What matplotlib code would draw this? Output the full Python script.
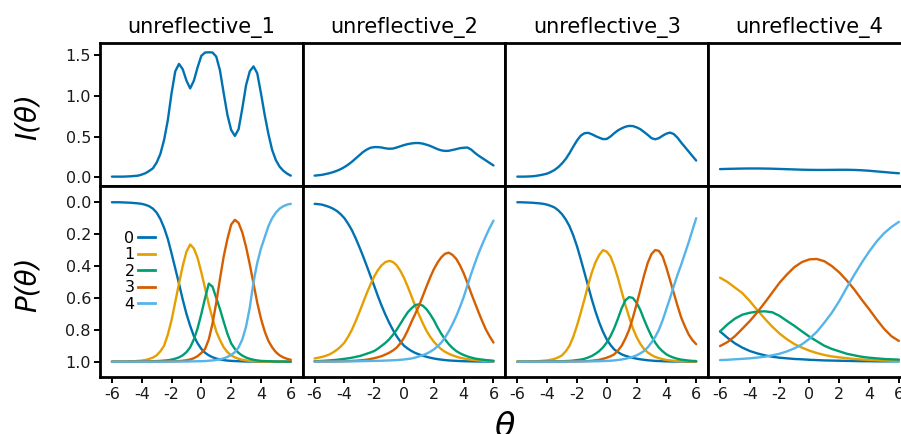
import matplotlib
matplotlib.use("Agg")
import matplotlib.pyplot as plt
from matplotlib.lines import Line2D
import numpy as np

# theta positions the curves were read at
theta_fine = np.linspace(-6, 6, 49)   # unreflective_1..3, every 0.25
theta = np.linspace(-6, 6, 25)        # unreflective_4, every 0.5

items = ["unreflective_1", "unreflective_2", "unreflective_3", "unreflective_4"]
categories = ["0", "1", "2", "3", "4"]
cat_colors = ["#0072B2", "#E69F00", "#009E73", "#D55E00", "#56B4E9"]
info_color = "#0072B2"

# item information I(theta)
info_u1 = [0.008, 0.008, 0.008, 0.008, 0.01, 0.012, 0.016, 0.02, 0.033,
           0.05, 0.078, 0.11, 0.18, 0.286, 0.458, 0.70, 1.03,
           1.30, 1.39, 1.325, 1.186, 1.09, 1.186, 1.35, 1.49,
           1.53, 1.533, 1.53, 1.48, 1.31, 1.03, 0.765, 0.58,
           0.507, 0.59, 0.847, 1.13, 1.30, 1.36, 1.276, 1.03,
           0.765, 0.53, 0.335, 0.21, 0.13, 0.08, 0.045, 0.02]
info_u2 = [0.02, 0.025, 0.03, 0.04, 0.05, 0.064, 0.08, 0.10, 0.125,
           0.155, 0.19, 0.23, 0.27, 0.31, 0.34, 0.362, 0.37,
           0.37, 0.365, 0.355, 0.35, 0.352, 0.365, 0.38, 0.395,
           0.407, 0.415, 0.42, 0.42, 0.413, 0.40, 0.385, 0.365,
           0.345, 0.33, 0.323, 0.325, 0.335, 0.345, 0.357, 0.362,
           0.365, 0.34, 0.30, 0.265, 0.235, 0.205, 0.175, 0.145]
info_u3 = [0.008, 0.008, 0.008, 0.01, 0.012, 0.017, 0.025, 0.034, 0.045,
           0.065, 0.09, 0.125, 0.17, 0.225, 0.295, 0.375, 0.45,
           0.51, 0.54, 0.545, 0.528, 0.505, 0.485, 0.468, 0.47,
           0.50, 0.54, 0.575, 0.60, 0.62, 0.63, 0.628, 0.613,
           0.59, 0.556, 0.52, 0.48, 0.466, 0.48, 0.51, 0.535,
           0.548, 0.53, 0.485, 0.425, 0.37, 0.315, 0.26, 0.205]
info_u4 = [0.10, 0.103, 0.105, 0.107, 0.108, 0.108, 0.107, 0.105, 0.102, 0.099,
           0.096, 0.093, 0.091, 0.09, 0.09, 0.091, 0.092, 0.092, 0.09, 0.086,
           0.08, 0.072, 0.064, 0.056, 0.049]

# category probabilities, unreflective_1
cat0_u1 = [1.0, 1.0, 1.0, 0.999, 0.998, 0.997, 0.995, 0.993, 0.99,
           0.984, 0.975, 0.96, 0.935, 0.895, 0.84, 0.77, 0.68,
           0.585, 0.49, 0.39, 0.30, 0.225, 0.16, 0.115, 0.08,
           0.056, 0.04, 0.028, 0.02, 0.014, 0.01, 0.007, 0.005,
           0.004, 0.003, 0.002, 0.001, 0.001, 0.001, 0.0, 0.0,
           0.0, 0.0, 0.0, 0.0, 0.0, 0.0, 0.0, 0.0]
cat1_u1 = [0.0, 0.0, 0.001, 0.001, 0.001, 0.002, 0.003, 0.005, 0.007,
           0.011, 0.017, 0.026, 0.04, 0.065, 0.10, 0.17, 0.26,
           0.375, 0.49, 0.60, 0.69, 0.735, 0.71, 0.65, 0.56,
           0.46, 0.36, 0.27, 0.19, 0.135, 0.09, 0.06, 0.04,
           0.027, 0.018, 0.012, 0.008, 0.005, 0.003, 0.002, 0.001,
           0.0, 0.0, 0.0, 0.0, 0.0, 0.0, 0.0, 0.0]
cat2_u1 = [0.0, 0.0, 0.0, 0.0, 0.0, 0.001, 0.001, 0.001, 0.002,
           0.002, 0.002, 0.003, 0.004, 0.005, 0.007, 0.009, 0.013,
           0.019, 0.027, 0.04, 0.06, 0.09, 0.14, 0.21, 0.30,
           0.40, 0.49, 0.47, 0.40, 0.33, 0.25, 0.175, 0.115,
           0.08, 0.055, 0.038, 0.026, 0.018, 0.012, 0.008, 0.005,
           0.004, 0.003, 0.002, 0.001, 0.001, 0.001, 0.0, 0.0]
cat3_u1 = [0.0, 0.0, 0.0, 0.0, 0.0, 0.0, 0.0, 0.0, 0.001,
           0.001, 0.001, 0.001, 0.001, 0.001, 0.001, 0.002, 0.002,
           0.003, 0.004, 0.006, 0.009, 0.014, 0.022, 0.035, 0.055,
           0.08, 0.14, 0.24, 0.37, 0.52, 0.66, 0.77, 0.86,
           0.89, 0.87, 0.81, 0.72, 0.61, 0.49, 0.37, 0.27,
           0.19, 0.13, 0.09, 0.06, 0.04, 0.027, 0.018, 0.012]
cat4_u1 = [0.0, 0.0, 0.0, 0.0, 0.0, 0.0, 0.0, 0.0, 0.0,
           0.0, 0.0, 0.0, 0.0, 0.0, 0.0, 0.0, 0.001,
           0.001, 0.001, 0.001, 0.001, 0.002, 0.002, 0.003, 0.003,
           0.004, 0.006, 0.008, 0.011, 0.015, 0.021, 0.03, 0.042,
           0.06, 0.09, 0.14, 0.22, 0.34, 0.50, 0.62, 0.71,
           0.78, 0.85, 0.90, 0.935, 0.96, 0.975, 0.985, 0.99]

# unreflective_2
cat0_u2 = [0.99, 0.988, 0.985, 0.978, 0.97, 0.959, 0.945, 0.925, 0.90,
           0.865, 0.825, 0.775, 0.72, 0.662, 0.60, 0.537, 0.475,
           0.41, 0.35, 0.295, 0.245, 0.20, 0.16, 0.127, 0.10,
           0.082, 0.067, 0.055, 0.046, 0.038, 0.031, 0.025, 0.02,
           0.016, 0.013, 0.01, 0.008, 0.0065, 0.005, 0.004, 0.003,
           0.0025, 0.002, 0.0015, 0.001, 0.001, 0.001, 0.001, 0.001]
cat1_u2 = [0.02, 0.025, 0.03, 0.037, 0.046, 0.059, 0.075, 0.095, 0.12,
           0.157, 0.20, 0.253, 0.31, 0.37, 0.43, 0.485, 0.535,
           0.575, 0.605, 0.625, 0.632, 0.626, 0.605, 0.57, 0.525,
           0.47, 0.41, 0.35, 0.295, 0.243, 0.195, 0.157, 0.125,
           0.10, 0.078, 0.062, 0.05, 0.04, 0.032, 0.025, 0.02,
           0.016, 0.013, 0.01, 0.008, 0.0065, 0.005, 0.004, 0.003]
cat2_u2 = [0.003, 0.004, 0.005, 0.0065, 0.008, 0.01, 0.012, 0.015, 0.018,
           0.021, 0.025, 0.03, 0.035, 0.042, 0.05, 0.058, 0.067,
           0.082, 0.10, 0.118, 0.14, 0.168, 0.20, 0.237, 0.275,
           0.31, 0.335, 0.355, 0.36, 0.352, 0.33, 0.298, 0.26,
           0.215, 0.175, 0.14, 0.11, 0.086, 0.067, 0.053, 0.042,
           0.033, 0.026, 0.02, 0.016, 0.013, 0.01, 0.008, 0.006]
cat3_u2 = [0.001, 0.001, 0.001, 0.001, 0.001, 0.0015, 0.002, 0.0025, 0.003,
           0.004, 0.005, 0.0065, 0.008, 0.01, 0.013, 0.017, 0.022,
           0.028, 0.035, 0.045, 0.056, 0.07, 0.088, 0.115, 0.15,
           0.197, 0.25, 0.30, 0.35, 0.41, 0.47, 0.528, 0.58,
           0.622, 0.655, 0.677, 0.684, 0.67, 0.645, 0.605, 0.555,
           0.495, 0.43, 0.37, 0.31, 0.253, 0.20, 0.158, 0.12]
cat4_u2 = [0.0, 0.0005, 0.001, 0.001, 0.001, 0.001, 0.001, 0.0015, 0.002,
           0.002, 0.002, 0.0025, 0.003, 0.0035, 0.004, 0.0045, 0.005,
           0.0055, 0.006, 0.007, 0.008, 0.009, 0.01, 0.012, 0.014,
           0.017, 0.02, 0.026, 0.033, 0.041, 0.05, 0.062, 0.077,
           0.097, 0.12, 0.152, 0.19, 0.235, 0.285, 0.342, 0.405,
           0.478, 0.55, 0.617, 0.68, 0.737, 0.79, 0.84, 0.885]

# unreflective_3
cat0_u3 = [1.0, 1.0, 0.999, 0.998, 0.997, 0.995, 0.993, 0.99, 0.985,
           0.977, 0.967, 0.949, 0.925, 0.892, 0.85, 0.793, 0.725,
           0.645, 0.56, 0.475, 0.39, 0.313, 0.245, 0.187, 0.14,
           0.105, 0.077, 0.06, 0.046, 0.037, 0.03, 0.024, 0.019,
           0.015, 0.012, 0.009, 0.007, 0.005, 0.004, 0.003, 0.002,
           0.0015, 0.001, 0.001, 0.001, 0.0005, 0.0, 0.0, 0.0]
cat1_u3 = [0.001, 0.001, 0.001, 0.0015, 0.002, 0.003, 0.004, 0.006, 0.008,
           0.012, 0.018, 0.027, 0.04, 0.065, 0.10, 0.155, 0.225,
           0.305, 0.39, 0.48, 0.56, 0.625, 0.67, 0.70, 0.69,
           0.66, 0.60, 0.525, 0.44, 0.355, 0.28, 0.21, 0.155,
           0.112, 0.08, 0.058, 0.042, 0.03, 0.022, 0.016, 0.011,
           0.008, 0.006, 0.004, 0.003, 0.0025, 0.002, 0.0015, 0.001]
cat2_u3 = [0.0, 0.0, 0.0, 0.0, 0.0, 0.0005, 0.001, 0.001, 0.001,
           0.0015, 0.002, 0.0025, 0.003, 0.004, 0.005, 0.007, 0.01,
           0.013, 0.018, 0.026, 0.036, 0.05, 0.067, 0.09, 0.12,
           0.16, 0.21, 0.27, 0.335, 0.385, 0.405, 0.40, 0.37,
           0.325, 0.265, 0.21, 0.16, 0.12, 0.088, 0.065, 0.046,
           0.034, 0.025, 0.018, 0.013, 0.01, 0.007, 0.005, 0.004]
cat3_u3 = [0.0, 0.0, 0.0, 0.0, 0.0, 0.0, 0.0, 0.0, 0.0,
           0.0, 0.0, 0.0005, 0.001, 0.001, 0.001, 0.0015, 0.002,
           0.0025, 0.003, 0.004, 0.006, 0.009, 0.012, 0.018, 0.025,
           0.034, 0.046, 0.07, 0.10, 0.145, 0.20, 0.275, 0.36,
           0.45, 0.54, 0.62, 0.675, 0.70, 0.695, 0.66, 0.59,
           0.51, 0.43, 0.35, 0.276, 0.22, 0.17, 0.135, 0.11]
cat4_u3 = [0.0, 0.0, 0.0, 0.0, 0.0, 0.0, 0.0, 0.0, 0.0,
           0.0, 0.0, 0.0, 0.0, 0.0005, 0.001, 0.001, 0.001,
           0.0015, 0.002, 0.002, 0.002, 0.0025, 0.003, 0.004, 0.005,
           0.006, 0.008, 0.011, 0.014, 0.018, 0.024, 0.031, 0.04,
           0.052, 0.067, 0.09, 0.12, 0.155, 0.20, 0.26, 0.33,
           0.40, 0.475, 0.545, 0.61, 0.68, 0.75, 0.825, 0.90]

# unreflective_4
cat0_u4 = [0.19, 0.15, 0.115, 0.088, 0.067, 0.052, 0.04, 0.031, 0.025, 0.021,
           0.017, 0.015, 0.012, 0.01, 0.008, 0.007, 0.006, 0.005, 0.004, 0.003,
           0.003, 0.002, 0.002, 0.002, 0.002]
cat1_u4 = [0.527, 0.50, 0.465, 0.43, 0.38, 0.324, 0.27, 0.22, 0.176, 0.14,
           0.11, 0.088, 0.069, 0.054, 0.042, 0.033, 0.027, 0.022, 0.017, 0.014,
           0.011, 0.009, 0.007, 0.006, 0.005]
cat2_u4 = [0.19, 0.234, 0.27, 0.295, 0.307, 0.314, 0.316, 0.31, 0.287, 0.255,
           0.224, 0.19, 0.157, 0.128, 0.10, 0.08, 0.065, 0.05, 0.04, 0.031,
           0.025, 0.021, 0.017, 0.015, 0.013]
cat3_u4 = [0.098, 0.123, 0.16, 0.207, 0.255, 0.31, 0.37, 0.433, 0.496, 0.548,
           0.594, 0.625, 0.642, 0.644, 0.63, 0.60, 0.56, 0.51, 0.454, 0.39,
           0.33, 0.266, 0.207, 0.16, 0.13]
cat4_u4 = [0.01, 0.012, 0.015, 0.018, 0.021, 0.026, 0.031, 0.04, 0.05, 0.065,
           0.084, 0.109, 0.144, 0.188, 0.245, 0.307, 0.38, 0.464, 0.544, 0.62,
           0.69, 0.753, 0.805, 0.845, 0.877]

panels = [
    (theta_fine, info_u1, [cat0_u1, cat1_u1, cat2_u1, cat3_u1, cat4_u1]),
    (theta_fine, info_u2, [cat0_u2, cat1_u2, cat2_u2, cat3_u2, cat4_u2]),
    (theta_fine, info_u3, [cat0_u3, cat1_u3, cat2_u3, cat3_u3, cat4_u3]),
    (theta, info_u4, [cat0_u4, cat1_u4, cat2_u4, cat3_u4, cat4_u4]),
]

W, H = 901, 434
fig = plt.figure(figsize=(W / 100, H / 100), dpi=100)

pw = 202.7
lefts = [100, 100 + pw, 100 + 2 * pw, 100 + 3 * pw]
tick_color = "#1a1a1a"

for i, (x, info, probs) in enumerate(panels):
    ax_top = fig.add_axes([lefts[i] / W, (H - 186) / H, pw / W, 143.5 / H])
    ax_bot = fig.add_axes([lefts[i] / W, (H - 377) / H, pw / W, 191 / H])

    ax_top.plot(x, info, color=info_color, lw=1.7,
                solid_capstyle="round", solid_joinstyle="round")
    for p, c in zip(probs, cat_colors):
        ax_bot.plot(x, 1 - np.array(p), color=c, lw=1.7,
                    solid_capstyle="round", solid_joinstyle="round")

    ax_top.set_xlim(-6.8, 6.8)
    ax_top.set_ylim(-0.107, 1.653)
    ax_bot.set_xlim(-6.8, 6.8)
    ax_bot.set_ylim(1.096, -0.102)

    ax_top.set_title(items[i], fontsize=15, pad=6.5)

    for ax in (ax_top, ax_bot):
        for s in ax.spines.values():
            s.set_linewidth(2.0)
            s.set_color("black")
        ax.tick_params(length=4, width=1.4, color="black",
                       labelsize=11.5, labelcolor=tick_color)
        ax.tick_params(axis="y", pad=2.5)
        ax.tick_params(axis="x", pad=3)

    ax_top.set_xticks([])
    ax_bot.set_xticks([-6, -4, -2, 0, 2, 4, 6])
    ax_bot.set_xticklabels(["-6", "-4", "-2", "0", "2", "4", "6"])
    if i == 0:
        ax_top.set_yticks([0.0, 0.5, 1.0, 1.5])
        ax_top.set_yticklabels(["0.0", "0.5", "1.0", "1.5"])
        ax_bot.set_yticks([0.0, 0.2, 0.4, 0.6, 0.8, 1.0])
        ax_bot.set_yticklabels(["0.0", "0.2", "0.4", "0.6", "0.8", "1.0"])
        handles = [Line2D([], [], color=c, lw=2.0) for c in cat_colors]
        ax_bot.legend(handles, categories, loc="upper left",
                      bbox_to_anchor=(0.12, 0.766), frameon=False,
                      markerfirst=False, handlelength=1.1, handletextpad=0.2,
                      labelspacing=0.1, borderpad=0, borderaxespad=0,
                      fontsize=11.5)
    else:
        ax_top.set_yticks([])
        ax_bot.set_yticks([])

fig.text(28 / W, 1 - 117 / H, "I(θ)", rotation=90, fontsize=20,
         style="italic", ha="center", va="center")
fig.text(28 / W, 1 - 284 / H, "P(θ)", rotation=90, fontsize=20,
         style="italic", ha="center", va="center")
# the reference crops the axis title and the last tick label at the edges
fig.text(505 / W, -3 / H, "θ", fontsize=24, style="italic",
         ha="center", va="baseline")

fig.savefig("out.png", dpi=100)
